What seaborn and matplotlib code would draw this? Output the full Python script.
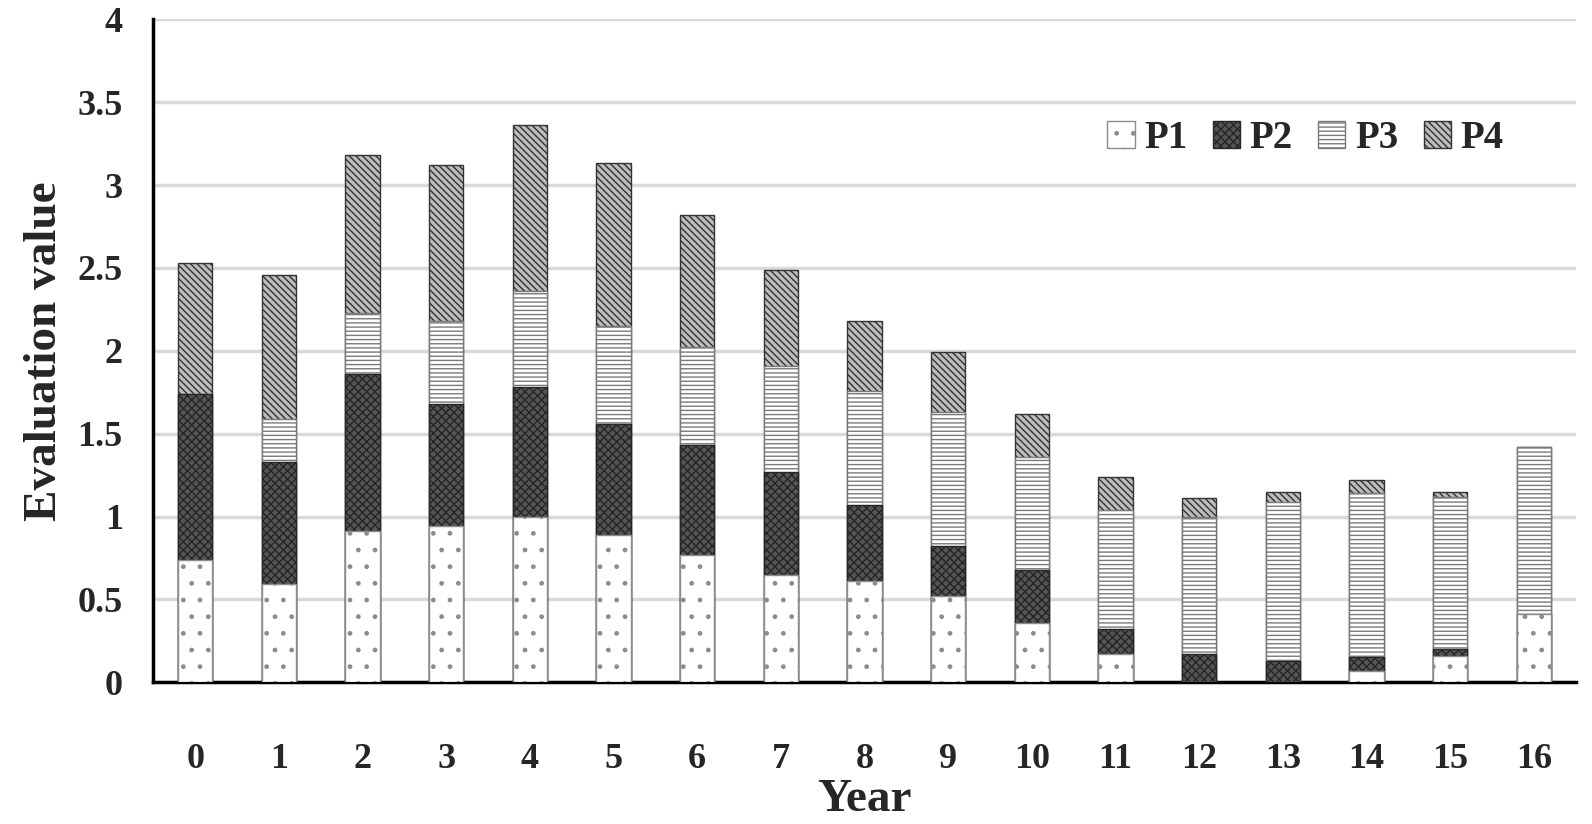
import numpy as np
import pandas as pd
import seaborn as sns
import matplotlib.pyplot as plt
from matplotlib.patches import Patch

years = [str(i) for i in range(17)]
p1 = [0.74, 0.59, 0.91, 0.94, 1.00, 0.89, 0.77, 0.65, 0.61, 0.52, 0.36, 0.17, 0.00, 0.00, 0.07, 0.16, 0.41]
p2 = [1.00, 0.74, 0.95, 0.74, 0.78, 0.67, 0.66, 0.62, 0.46, 0.30, 0.32, 0.15, 0.17, 0.13, 0.08, 0.04, 0.00]
p3 = [0.00, 0.26, 0.37, 0.50, 0.58, 0.59, 0.59, 0.64, 0.69, 0.81, 0.68, 0.72, 0.83, 0.96, 0.99, 0.92, 1.01]
p4 = [0.79, 0.87, 0.95, 0.94, 1.00, 0.98, 0.80, 0.58, 0.42, 0.36, 0.26, 0.20, 0.11, 0.06, 0.08, 0.03, 0.00]

df = pd.DataFrame({'Year': years, 'P1': p1, 'P2': p2, 'P3': p3, 'P4': p4})
df['c1'] = df['P1']
df['c2'] = df['c1'] + df['P2']
df['c3'] = df['c2'] + df['P3']
df['c4'] = df['c3'] + df['P4']

sns.set_style('white')
plt.rcParams['font.family'] = ['Liberation Serif', 'DejaVu Serif']
plt.rcParams['font.weight'] = 'bold'
plt.rcParams['hatch.linewidth'] = 1.0

fig = plt.figure(figsize=(15.92, 8.24), dpi=100)
ax = fig.add_axes([0.0963, 0.172, 0.8935, 0.8046])

# series styles: face, hatch, hatch/edge colour
styles = {
    'P1': ('white', '.', '#8c8c8c'),
    'P2': ('#555555', 'xxxx', '#262626'),
    'P3': ('white', '----', '#7a7a7a'),
    'P4': ('#bdbdbd', '\\\\\\\\\\', '#333333'),
}

# draw cumulative totals from top to bottom so each layer covers the one below
for col, name in [('c4', 'P4'), ('c3', 'P3'), ('c2', 'P2'), ('c1', 'P1')]:
    fc, hatch, ec = styles[name]
    sns.barplot(data=df, x='Year', y=col, color=fc, saturation=1, errorbar=None,
                width=0.41, hatch=hatch, edgecolor=ec, linewidth=1.0, ax=ax, zorder=3)

ax.set_xlim(-0.5, 16.5)
ax.set_ylim(0, 4)
ax.set_yticks(np.arange(0, 4.01, 0.5))
ax.set_yticklabels(['0', '0.5', '1', '1.5', '2', '2.5', '3', '3.5', '4'])
ax.yaxis.grid(True, color='#d9d9d9', linewidth=2.5, zorder=0)
ax.set_axisbelow(True)

# x ticks between categories, labels centred under bars
ax.set_xticks(np.arange(-0.5, 17, 1))
ax.set_xticklabels([])
ax.set_xticks(np.arange(17), minor=True)
ax.set_xticklabels(years, minor=True)
ax.tick_params(axis='x', which='major', direction='out', length=12, width=2.5, color='black')
ax.tick_params(axis='x', which='minor', length=0, pad=44, labelsize=26)
ax.tick_params(axis='y', direction='out', length=12, width=2.5, color='black', labelsize=26, pad=10)

for s in ['top', 'right']:
    ax.spines[s].set_visible(False)
for s in ['left', 'bottom']:
    ax.spines[s].set_color('black')
    ax.spines[s].set_linewidth(2.5)

ax.set_xlabel('Year', fontsize=34, fontweight='bold', labelpad=2)
ax.set_ylabel('Evaluation value', fontsize=34, fontweight='bold', labelpad=8)

handles = [Patch(facecolor=styles[n][0], hatch=styles[n][1], edgecolor=styles[n][2], label=n)
           for n in ['P1', 'P2', 'P3', 'P4']]
ax.legend(handles=handles, ncol=4, frameon=False, loc='center', bbox_to_anchor=(0.81, 0.82),
          fontsize=28, handlelength=0.7, handleheight=0.7, handletextpad=0.25, columnspacing=0.65)

fig.savefig('out.png', dpi=100)
